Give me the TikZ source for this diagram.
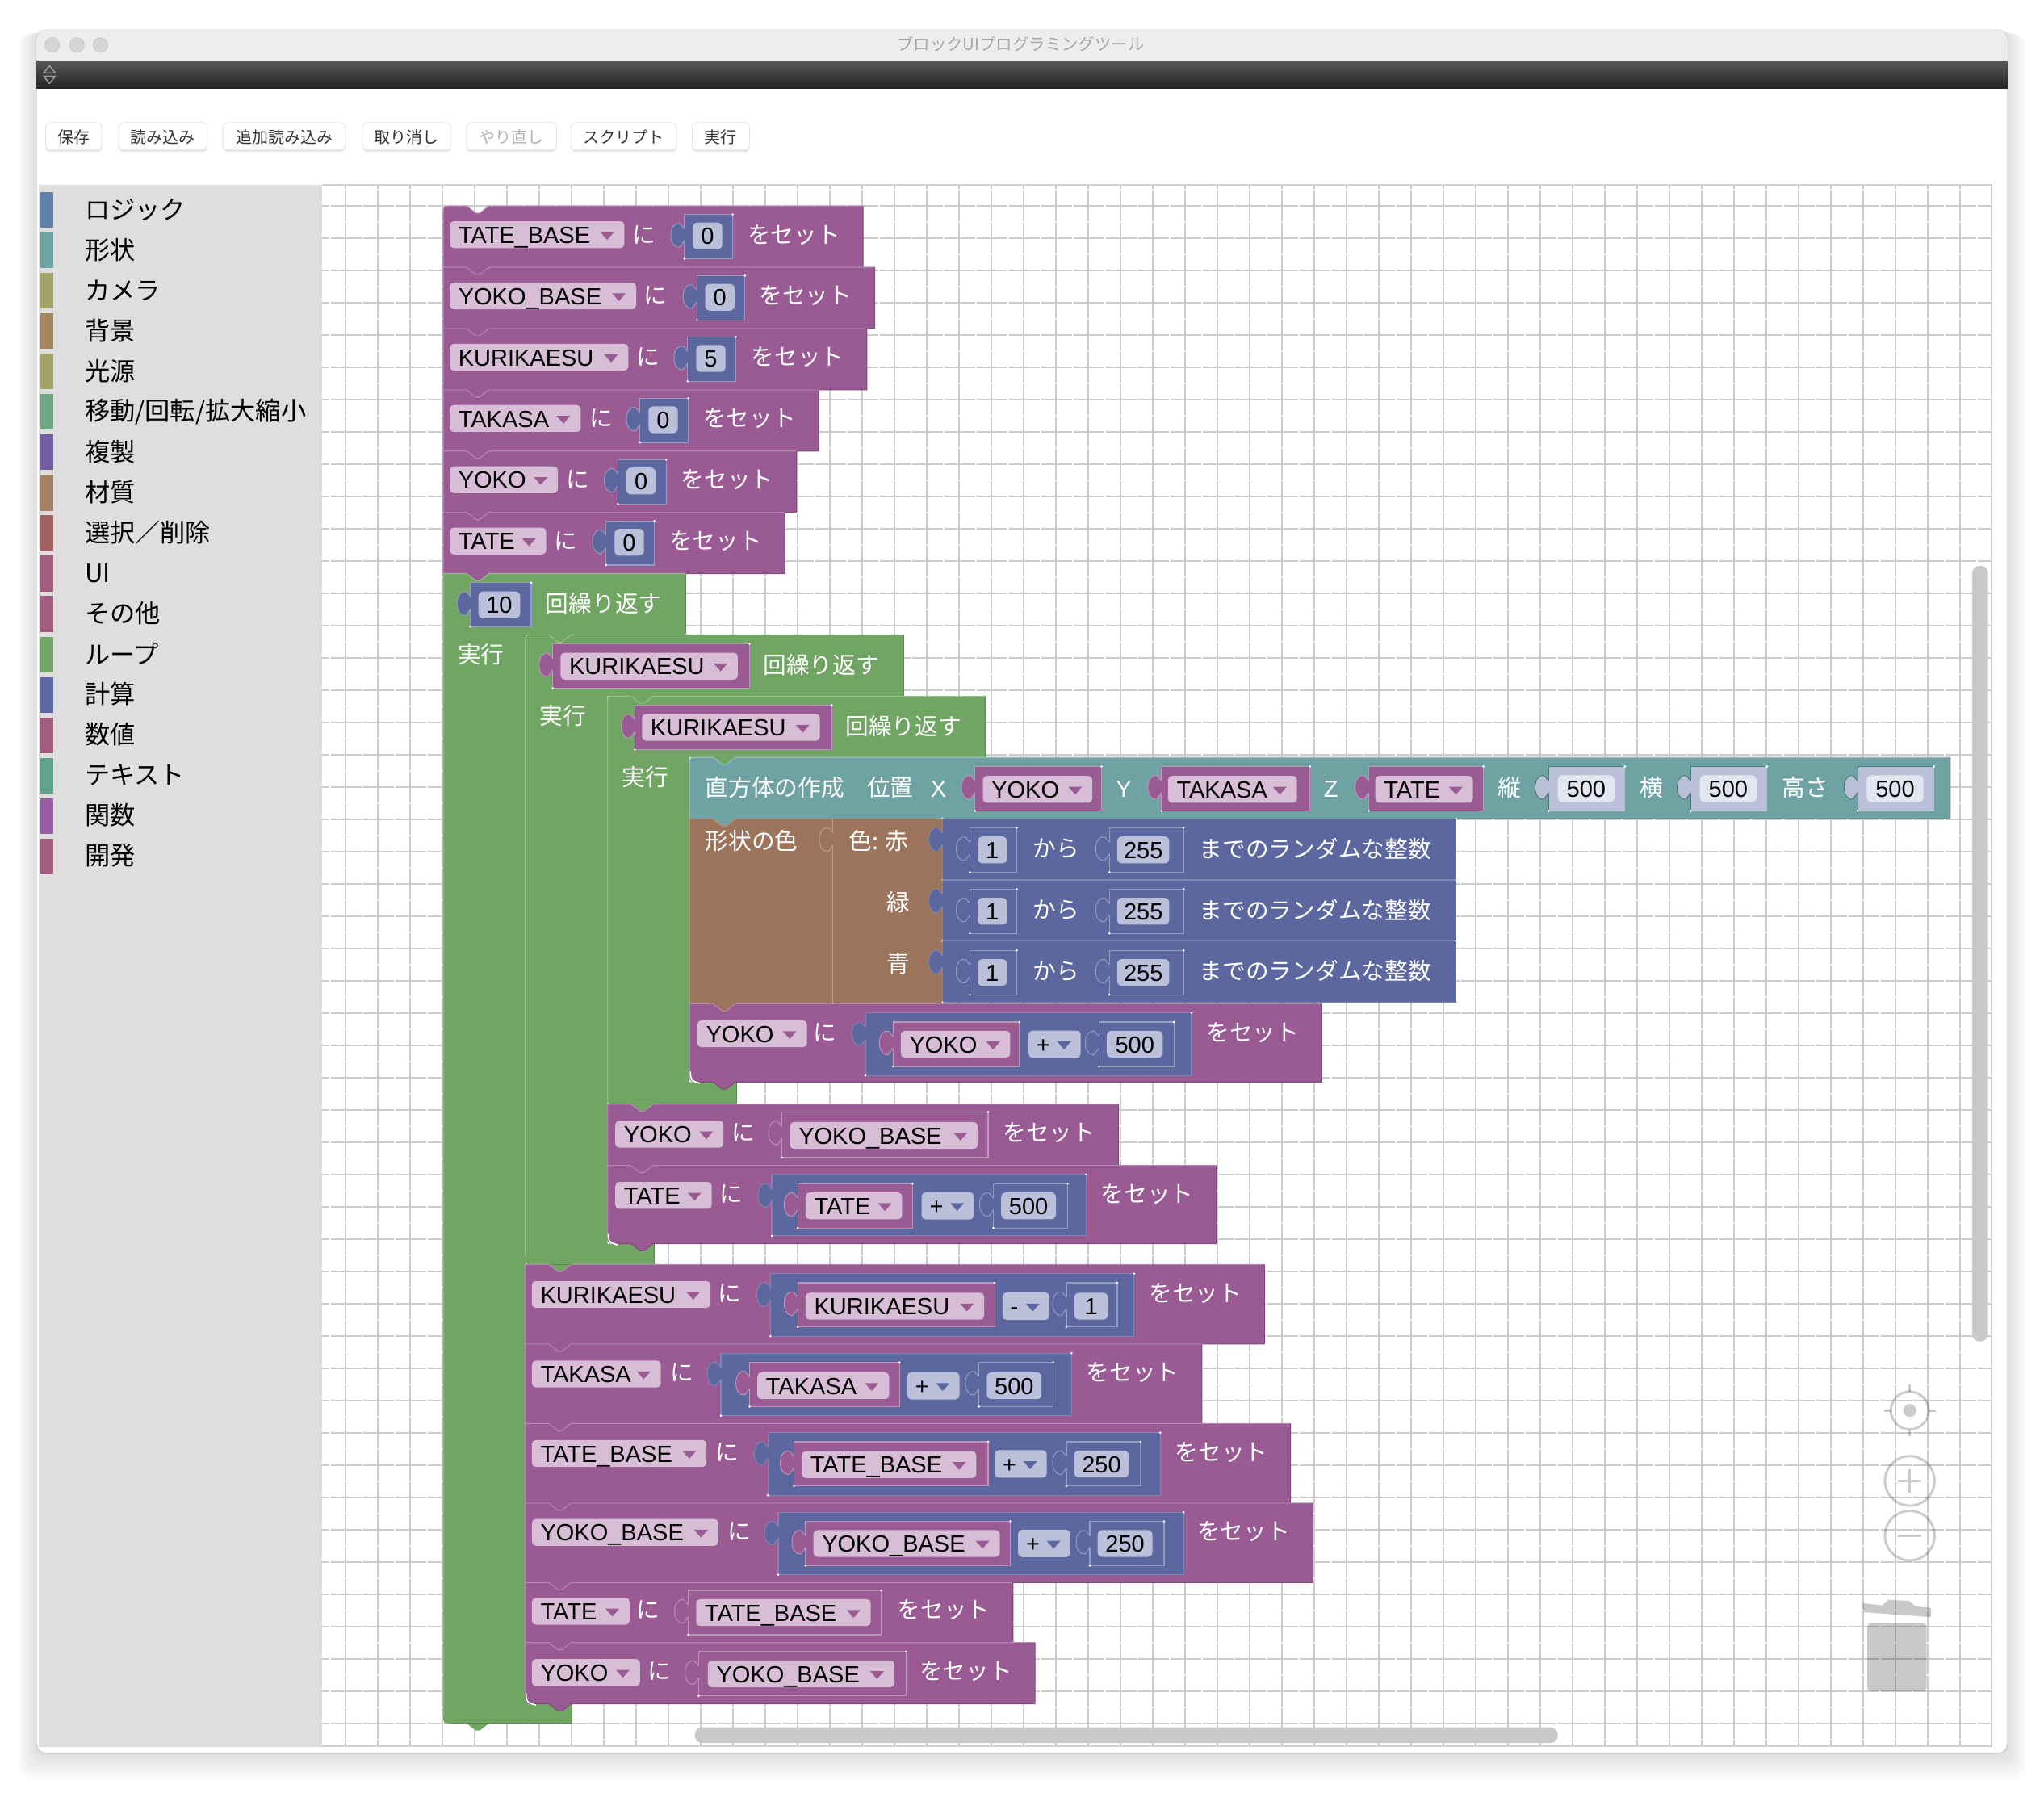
\documentclass[tikz,border=0pt]{standalone}
\usepackage{fontspec}
\setmainfont{Liberation Sans}
\newfontfamily\cjk{Noto Sans CJK JP}
\definecolor{pur}{HTML}{9A5B94}
\definecolor{grn}{HTML}{70A564}
\definecolor{tea}{HTML}{6FA3A3}
\definecolor{brn}{HTML}{9C745C}
\definecolor{blu}{HTML}{5C67A0}
\definecolor{palep}{HTML}{D7BDD6}
\definecolor{paleb}{HTML}{BAC0DA}
\definecolor{palet}{HTML}{E3E6F0}
\definecolor{gridc}{HTML}{CCCCCC}
\newcommand\lat{\fontsize{29}{32}\selectfont}
\newcommand\jp{\cjk\fontsize{28.7}{32}\selectfont}
\newcommand\Stmt[7]{%
 \path[fill=#5] ({#1},{#2+#6}) .. controls ({#1},{#2}) .. ({#1+#6},{#2}) -- ({#1+18},{#2}) -- ({#1+25},{#2+5.5}) -- ({#1+28},{#2+5.5}) -- ({#1+35},{#2}) -- ({#3},{#2}) -- ({#3},{#4}) -- ({#1+35},{#4}) -- ({#1+28},{#4+5.5}) -- ({#1+25},{#4+5.5}) -- ({#1+18},{#4}) -- ({#1+#7},{#4}) .. controls ({#1},{#4}) .. ({#1},{#4-#7}) -- cycle;
 \draw[#5!72!white,line width=1.1pt] ({#1},{#4-#7}) -- ({#1},{#2+#6}) .. controls ({#1},{#2}) .. ({#1+#6},{#2}) -- ({#1+18},{#2}) -- ({#1+25},{#2+5.5}) -- ({#1+28},{#2+5.5}) -- ({#1+35},{#2}) -- ({#3},{#2});
 \draw[#5!82!black,line width=1.1pt] ({#3},{#2}) -- ({#3},{#4}) -- ({#1+35},{#4}) -- ({#1+28},{#4+5.5}) -- ({#1+25},{#4+5.5}) -- ({#1+18},{#4}) -- ({#1+#7},{#4});
}
% C-shaped loop: x0,y0,headRight,headBottom,innerX,barTop,barRight,bottom,topRadius
\newcommand\Loopb[9]{%
 \path[fill=grn] ({#1},{#2+#9}) .. controls ({#1},{#2}) .. ({#1+#9},{#2}) -- ({#1+18},{#2}) -- ({#1+25},{#2+5.5}) -- ({#1+28},{#2+5.5}) -- ({#1+35},{#2}) -- ({#3},{#2}) -- ({#3},{#4}) -- ({#5+35},{#4}) -- ({#5+28},{#4+5.5}) -- ({#5+25},{#4+5.5}) -- ({#5+18},{#4}) -- ({#5},{#4}) -- ({#5},{#6}) -- ({#7},{#6}) -- ({#7},{#8}) -- ({#1+35},{#8}) -- ({#1+28},{#8+5.5}) -- ({#1+25},{#8+5.5}) -- ({#1+18},{#8}) -- ({#1+6},{#8}) .. controls ({#1},{#8}) .. ({#1},{#8-6}) -- cycle;
 \draw[grn!72!white,line width=1.1pt] ({#1},{#8-6}) -- ({#1},{#2+#9}) .. controls ({#1},{#2}) .. ({#1+#9},{#2}) -- ({#1+18},{#2}) -- ({#1+25},{#2+5.5}) -- ({#1+28},{#2+5.5}) -- ({#1+35},{#2}) -- ({#3},{#2});
 \draw[grn!82!black,line width=1.1pt] ({#3},{#2}) -- ({#3},{#4});
 \draw[grn!82!black,line width=1.1pt] ({#7},{#6}) -- ({#7},{#8}) -- ({#1+6},{#8});
}
% value block: left,top,right,bottom,colour,border
\newcommand\Vb[6]{%
 \draw[fill=#5,draw=#6,line width=1.2pt] ({#1},{#2}) rectangle ({#3},{#4});
 \path[fill=white] ({#3},{#2}) circle (.9) ({#1},{#4}) circle (.9);
 \path[fill=#5] ({#1+1},{#2+12}) -- ({#1-3.5},{#2+7}) .. controls ({#1-7},{#2+6}) and ({#1-10.5},{#2+10}) .. ({#1-10.5},{#2+16}) .. controls ({#1-10.5},{#2+22}) and ({#1-7},{#2+26}) .. ({#1-3.5},{#2+25}) -- ({#1+1},{#2+19}) -- cycle;
 \draw[#6,line width=1pt] ({#1},{#2+11}) -- ({#1-3.5},{#2+7}) .. controls ({#1-7},{#2+6}) and ({#1-10.5},{#2+10}) .. ({#1-10.5},{#2+16}) .. controls ({#1-10.5},{#2+22}) and ({#1-7},{#2+26}) .. ({#1-3.5},{#2+25}) -- ({#1},{#2+20});
}
\newcommand\Dd[4]{%
 \path[fill=palep,rounded corners=5pt] ({#1},{#3-10.3}) rectangle ({#2},{#3+10.3});
 \node[anchor=base west,inner sep=0pt,font=\lat] at ({#1+6.5},{#3+6.6}) {#4};
 \path[fill=pur] ({#2-18.5},{#3-2}) -- ({#2-8},{#3-2}) -- ({#2-13.2},{#3+4}) -- cycle;
}
\newcommand\Nf[4]{%
 \path[fill=#4,rounded corners=6pt] ({#1},{#3-10.3}) rectangle ({#2},{#3+10.3});
}
\newcommand\Num[5]{%
 \Nf{#1}{#2}{#3}{#5}
 \node[anchor=base,inner sep=0pt,font=\lat] at ({(#1+#2)/2},{#3+6.6}) {#4};
}
\newcommand\Opf[4]{%
 \path[fill=paleb,rounded corners=5pt] ({#1},{#3-10.5}) rectangle ({#2},{#3+10.5});
 \node[anchor=base west,inner sep=0pt,font=\lat] at ({#1+6},{#3+6.6}) {#4};
 \path[fill=blu] ({#2-18},{#3-2}) -- ({#2-7.5},{#3-2}) -- ({#2-12.8},{#3+4}) -- cycle;
}
\newcommand\Tx[3]{\node[inner sep=0pt,text=white,font=\jp] at ({#1},{#2}) {#3};}
\newcommand\Tl[3]{\node[inner sep=0pt,anchor=west,text=white,font=\jp] at ({#1},{#2}) {#3};}
\newcommand\La[3]{\node[anchor=base,inner sep=0pt,text=white,font=\lat] at ({#1},{#2+6.6}) {#3};}
% top row: top,right,name,ddEnd,niX,valL,num,setX
\newcommand\SetNum[9]{%
 \Stmt{340}{#1}{#2}{#1+47}{pur}{#9}{0}
 \Dd{345}{#4}{#1+22}{#3}
 \Tx{#5}{#1+22}{に}
 \Vb{#6}{#1+6.5}{#6+37}{#1+40.5}{blu}{blu!65!white}
 \Num{#6+6.5}{#6+29}{#1+23}{#7}{paleb}
 \Tx{#8}{#1+22}{をセット}
}
\newcommand\Rand[1]{%
 \Vb{723}{#1}{1117}{#1+47}{blu}{blu!80!white}
 \Vb{744}{#1+7}{780}{#1+41}{blu}{blu!65!white}
 \Num{750}{772.5}{#1+24}{1}{paleb}
 \Tx{810}{#1+23}{から}
 \Vb{851}{#1+7}{908}{#1+41}{blu}{blu!65!white}
 \Num{857}{897}{#1+24}{255}{paleb}
 \Tl{920}{#1+23}{までのランダムな整数}
}
\newcommand\Shad[2]{% value number in teal
 \Vb{#1}{588}{#1+58.5}{622}{paleb}{tea!72!black}
 \draw[tea!60!white,line width=1.2pt] ({#1+58.5},588) -- ({#1+58.5},622) -- ({#1},622);
 \path[fill=white] ({#1+58.5},588) circle (.9) ({#1},622) circle (.9);
 \Num{#1+7}{#1+50.5}{605}{#2}{palet}
}
\tikzset{
 gridl/.style={gridc,line width=2pt},
 btn/.style={fill=white,draw=black!10,line width=.8pt,rounded corners=6pt},
 ctrl/.style={draw=black,draw opacity=.2,line width=3pt},
}
\begin{document}
\begin{tikzpicture}[x=1.614796pt,y=-1.614796pt]
\useasboundingbox (0,0) rectangle (1568,1378.5);
% window shadow
\foreach \i in {1,...,16}{
 \path[fill=black,fill opacity=.0075,rounded corners=12pt] ({28-\i*.9},{23+\i*.2}) rectangle ({1540+\i*.9},{1345+\i*1.25});
}
\draw[fill=white,draw=black!22,line width=1pt,rounded corners=12pt] (28,23) rectangle (1540,1345);
\begin{scope}
\clip[rounded corners=12pt] (28,23) rectangle (1540,1345);
\path[fill=black!7] (28,23) rectangle (1540,47);
\shade[top color=black!66,bottom color=black!86] (28,47) rectangle (1540,68);
\end{scope}
\foreach \xx in {40,59,77}{\draw[fill=black!16,draw=black!22,line width=.8pt] (\xx,34.5) circle (5.6);}
\node (title) [inner sep=0pt,text=black!35,font=\cjk\fontsize{20.4}{24}\selectfont] at (783,34) {ブロックUIプログラミングツール};
\draw[black!40,line width=1.6pt,line join=round] (38,50.5) -- (42.5,56) -- (33.5,56) -- cycle;
\draw[black!40,line width=1.6pt,line join=round] (38,64) -- (42.5,58.5) -- (33.5,58.5) -- cycle;
% buttons
\foreach \a/\b/\t/\c in {35/78/保存/black!80,91/159/読み込み/black!80,171/265/追加読み込み/black!80,278/346/取り消し/black!80,358/427/やり直し/black!30,438/519/スクリプト/black!80,531/575/実行/black!80}{
 \path[fill=black!10,rounded corners=6pt] (\a,95.5) rectangle (\b,116.5);
 \path[btn] (\a,94) rectangle (\b,115);
 \node[inner sep=0pt,text=\c,font=\cjk\fontsize{20}{24}\selectfont] at ({(\a+\b)/2},105) {\t};
}
% grid
\begin{scope}[x=1pt,y=-1pt]
\foreach \xx in {428,468,...,2428}{\draw[gridl,dash pattern=on 38pt off 2pt,dash phase=33pt] (\xx,229) -- (\xx,2163);}
\foreach \yy in {255,295,...,2135}{\draw[gridl,dash pattern=on 38pt off 2pt,dash phase=29pt] (399,\yy) -- (2467,\yy);}
\draw[black!18,line width=1.5pt] (399,229) -- (2467,229) -- (2467,2163) -- (399,2163);
\end{scope}
% left panel
\path[fill=black!13] (30,142) rectangle (247,1340);
\foreach \t/\c [count=\k from 0] in {ロジック/5F80A9,形状/6FA3A3,カメラ/A3A366,背景/A3875F,光源/A3A366,{移動/回転/拡大縮小}/6DA67F,複製/745DA5,材質/A3805F,選択／削除/A35F5F,UI/A35C80,その他/A35C80,ループ/6FA565,計算/5C68A5,数値/A35C80,テキスト/5FA38C,関数/995BA5,開発/A35C80}{
 \definecolor{barc}{HTML}{\c}
 \path[fill=barc] (31,{161+31*\k-13.7}) rectangle (41,{161+31*\k+13.7});
 \node[anchor=west,inner sep=0pt,font=\cjk\fontsize{31.2}{36}\selectfont] at (65,{160.8+30.98*\k}) {\t};
}
% top stack
\SetNum{158}{662}{TATE\_BASE}{479}{494}{525}{0}{609}{6}
\SetNum{205}{671}{YOKO\_BASE}{488}{503}{534.5}{0}{618}{0}
\SetNum{252}{665}{KURIKAESU}{482}{497}{527.5}{5}{612}{0}
\SetNum{299}{628}{TAKASA}{445.5}{461}{491}{0}{575}{0}
\SetNum{346}{611}{YOKO}{428}{443}{474}{0}{558}{0}
\SetNum{393}{602}{TATE}{419}{434}{465}{0}{549}{0}
% loop 1
\Loopb{340}{440}{526}{487}{403}{1306}{439}{1322}{0}
\Vb{361}{447}{407.5}{481}{blu}{blu!65!white}
\Num{367}{399}{464}{10}{paleb}
\Tx{463}{463}{回繰り返す}
\Tx{369}{502}{実行}
% loop 2
\Loopb{403}{487}{693}{534}{466}{954}{502}{970}{6}
\Vb{424}{494}{575}{528}{pur}{pur!65!white}
\Dd{430}{566}{511}{KURIKAESU}
\Tx{630}{510}{回繰り返す}
\Tx{432}{549}{実行}
% loop 3
\Loopb{466}{534}{756}{581}{529}{830}{565}{847}{6}
\Vb{487}{541}{638}{575}{pur}{pur!65!white}
\Dd{492.5}{629}{558}{KURIKAESU}
\Tx{693}{557}{回繰り返す}
\Tx{495}{596}{実行}
% cuboid
\Stmt{529}{581}{1496}{628}{tea}{6}{0}
\Tl{541}{604}{直方体の作成}
\Tl{665}{604}{位置}
\La{720}{605}{X}
\Vb{748}{588}{845}{622}{pur}{pur!65!white}
\Dd{754}{838}{605.5}{YOKO}
\La{862}{605}{Y}
\Vb{891}{588}{1005}{622}{pur}{pur!65!white}
\Dd{896}{995}{605.5}{TAKASA}
\La{1021}{605}{Z}
\Vb{1050}{588}{1138}{622}{pur}{pur!65!white}
\Dd{1055}{1130}{605.5}{TATE}
\Tx{1158}{604}{縦}
\Shad{1188}{500}
\Tx{1267}{604}{横}
\Shad{1297}{500}
\Tx{1385}{604}{高さ}
\Shad{1425}{500}
% colour block
\Stmt{529}{628}{723}{770}{brn}{0}{0}
\Vb{639}{628}{723}{770}{brn}{brn!72!white}
\Tl{541}{645}{形状の色}
\Tx{674}{645}{色: 赤}
\Tx{689}{692}{緑}
\Tx{689}{739}{青}
\Rand{628}
\Rand{675}
\Rand{722}
% YOKO + 500
\Stmt{529}{770}{1014}{830}{pur}{0}{7}
\draw[white,line width=1.6pt] (529.5,822) .. controls (530,829) .. (537,831);
\Dd{535}{619}{793}{YOKO}
\Tx{633}{792}{に}
\Vb{664}{777}{914}{825}{blu}{blu!80!white}
\Vb{685}{784}{782}{818}{pur}{pur!65!white}
\Dd{691}{775}{801}{YOKO}
\Opf{789}{829}{801}{+}
\Vb{843}{784}{900.5}{818}{blu}{blu!65!white}
\Num{849}{892}{801}{500}{paleb}
\Tx{961}{792}{をセット}
% inner 2 after loop 3
\Stmt{466}{847}{858}{894}{pur}{0}{0}
\Dd{472}{555}{870}{YOKO}
\Tx{570}{869}{に}
\Vb{600}{853}{758}{888}{pur}{pur!65!white}
\Dd{606}{750}{871}{YOKO\_BASE}
\Tx{805}{869}{をセット}
\Stmt{466}{894}{933}{954}{pur}{0}{7}
\draw[white,line width=1.6pt] (466.5,946) .. controls (467,953) .. (474,955);
\Dd{472}{546}{917}{TATE}
\Tx{561}{916}{に}
\Vb{592}{901}{833}{948}{blu}{blu!80!white}
\Vb{612}{908}{700}{942}{pur}{pur!65!white}
\Dd{618}{692}{925}{TATE}
\Opf{707}{747}{925}{+}
\Vb{762}{908}{819}{942}{blu}{blu!65!white}
\Num{768}{810}{925}{500}{paleb}
\Tx{880}{916}{をセット}
% after loop 2
\Stmt{403}{970}{970}{1031}{pur}{0}{0}
\Dd{408}{545}{993}{KURIKAESU}
\Tx{560}{992}{に}
\Vb{591}{977}{870}{1025}{blu}{blu!80!white}
\Vb{612}{984}{763}{1018}{pur}{pur!65!white}
\Dd{618}{755}{1002}{KURIKAESU}
\Opf{769}{805}{1002}{-}
\Vb{818}{984}{857}{1018}{blu}{blu!65!white}
\Num{824}{850}{1002}{1}{paleb}
\Tx{917}{992}{をセット}
\Stmt{403}{1031}{922}{1092}{pur}{0}{0}
\Dd{408}{507}{1054}{TAKASA}
\Tx{523}{1053}{に}
\Vb{553}{1038}{822}{1086}{blu}{blu!80!white}
\Vb{575}{1045}{690}{1079}{pur}{pur!65!white}
\Dd{581}{682}{1063}{TAKASA}
\Opf{696}{736}{1063}{+}
\Vb{751}{1045}{808}{1079}{blu}{blu!65!white}
\Num{757}{799}{1063}{500}{paleb}
\Tx{869}{1053}{をセット}
\Stmt{403}{1092}{990}{1153}{pur}{0}{0}
\Dd{408}{542}{1115}{TATE\_BASE}
\Tx{558}{1114}{に}
\Vb{589}{1099}{890}{1147}{blu}{blu!80!white}
\Vb{609}{1106}{758}{1140}{pur}{pur!65!white}
\Dd{615}{749}{1123.5}{TATE\_BASE}
\Opf{763}{803}{1123}{+}
\Vb{818}{1106}{875}{1140}{blu}{blu!65!white}
\Num{824}{866}{1123}{250}{paleb}
\Tx{937}{1114}{をセット}
\Stmt{403}{1153}{1007}{1214}{pur}{0}{0}
\Dd{408}{551}{1175.5}{YOKO\_BASE}
\Tx{567}{1175}{に}
\Vb{597}{1160}{908}{1208}{blu}{blu!80!white}
\Vb{618}{1167}{775}{1201}{pur}{pur!65!white}
\Dd{624}{767}{1184}{YOKO\_BASE}
\Opf{781}{821}{1184}{+}
\Vb{836}{1167}{893}{1201}{blu}{blu!65!white}
\Num{842}{884}{1184}{250}{paleb}
\Tx{954}{1175}{をセット}
\Stmt{403}{1214}{777}{1260}{pur}{0}{0}
\Dd{408}{483}{1236}{TATE}
\Tx{497}{1235}{に}
\Vb{528}{1220}{676}{1254}{pur}{pur!65!white}
\Dd{534}{668}{1237}{TATE\_BASE}
\Tx{724}{1235}{をセット}
\Stmt{403}{1260}{794}{1307}{pur}{0}{7}
\draw[white,line width=1.6pt] (403.5,1299) .. controls (404,1306) .. (411,1308);
\Dd{408}{491}{1283}{YOKO}
\Tx{506}{1282}{に}
\Vb{536}{1267}{695}{1301}{pur}{pur!65!white}
\Dd{543}{686}{1284}{YOKO\_BASE}
\Tx{741}{1282}{をセット}
% scrollbars
\path[fill=black!21,rounded corners=9pt] (1513,434) rectangle (1525,1029);
\path[fill=black!21,rounded corners=9pt] (533,1325) rectangle (1195,1337);
% controls
\draw[ctrl] (1465,1082) circle (14.5);
\path[fill=black,fill opacity=.2] (1465,1082) circle (5);
\draw[ctrl] (1445.3,1082) -- (1450.5,1082) (1479.5,1082) -- (1484.7,1082) (1465,1062.3) -- (1465,1067.5) (1465,1096.5) -- (1465,1101.7);
\draw[ctrl] (1465,1136) circle (19);
\draw[ctrl] (1456,1136) -- (1474,1136) (1465,1127) -- (1465,1145);
\draw[ctrl] (1465,1178) circle (19);
\draw[ctrl] (1456,1178) -- (1474,1178);
\path[fill=black,fill opacity=.21] (1429.3,1229.9) -- (1444,1231.5) -- (1448.5,1227.3) -- (1464.6,1228) -- (1469,1232) -- (1481.3,1233.6) -- (1481.3,1240.5) -- (1429.3,1236.7) -- cycle;
\path[fill=black,fill opacity=.21,rounded corners=5pt] (1432.5,1245) -- (1478,1245) -- (1478,1297.5) -- (1432.5,1297.5) -- cycle;
\end{tikzpicture}
\end{document}
